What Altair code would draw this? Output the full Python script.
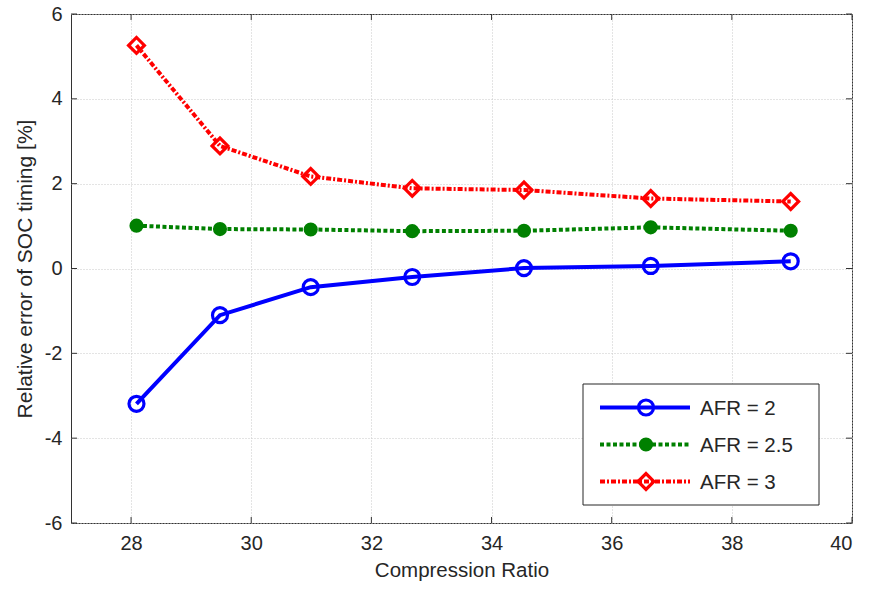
import altair as alt
import pandas as pd

# ---- data ----
cr = [28.09, 29.48, 30.99, 32.68, 34.54, 36.65, 38.98]
afr2 = [-3.19, -1.10, -0.44, -0.20, 0.01, 0.06, 0.17]
afr25 = [1.01, 0.93, 0.92, 0.88, 0.89, 0.97, 0.89]
afr3 = [5.26, 2.89, 2.17, 1.89, 1.85, 1.65, 1.58]
series_names = ["AFR = 2", "AFR = 2.5", "AFR = 3"]
x_ticks = [28, 30, 32, 34, 36, 38, 40]
y_ticks = [-6, -4, -2, 0, 2, 4, 6]

W, H = 781, 509
FONT = "Liberation Sans"
TXT = "#262626"

styles = [
    dict(color="#0000ff", dash=None, shape="circle", filled=False, size=225),
    dict(color="#008000", dash=[4, 2.5], shape="circle", filled=True, size=200),
    dict(color="#ff0000", dash=[5, 2, 2, 2], shape="diamond", filled=False, size=250),
]

xscale = alt.Scale(domain=[27, 40], nice=False, zero=False)
yscale = alt.Scale(domain=[-6, 6], nice=False, zero=False)
xaxis = alt.Axis(values=x_ticks, title="Compression Ratio", grid=True,
                 gridDash=[1, 2], gridColor="#c8c8c8", tickSize=0, domain=False,
                 labelPadding=10, titlePadding=7, titleFontSize=20.5)
yaxis = alt.Axis(values=y_ticks, title="Relative error of SOC timing [%]", grid=True,
                 gridDash=[1, 2], gridColor="#c8c8c8", tickSize=0, domain=False,
                 labelPadding=9, titlePadding=9, titleFontSize=21,
                 labelExpr="toString(datum.value)")

layers = []

# inward ticks on all four sides
xt = pd.DataFrame({"v": x_ticks})
yt = pd.DataFrame({"v": y_ticks})
for y0, y1 in [(H, H - 6), (0, 6)]:
    layers.append(alt.Chart(xt).mark_rule(color="#333333", strokeWidth=1).encode(
        x=alt.X("v:Q", scale=xscale, axis=xaxis), y=alt.value(y0), y2=alt.value(y1)))
for x0, x1 in [(0, 6), (W, W - 6)]:
    layers.append(alt.Chart(yt).mark_rule(color="#333333", strokeWidth=1).encode(
        y=alt.Y("v:Q", scale=yscale, axis=yaxis), x=alt.value(x0), x2=alt.value(x1)))

# data series
for name, vals, st in zip(series_names, [afr2, afr25, afr3], styles):
    df = pd.DataFrame({"cr": cr, "err": vals, "series": name})
    enc = dict(x=alt.X("cr:Q", scale=xscale, axis=xaxis),
               y=alt.Y("err:Q", scale=yscale, axis=yaxis))
    lkw = dict(color=st["color"], strokeWidth=4)
    if st["dash"]:
        lkw["strokeDash"] = st["dash"]
    layers.append(alt.Chart(df).mark_line(**lkw).encode(**enc))
    if st["filled"]:
        pm = alt.Chart(df).mark_point(shape=st["shape"], filled=True, fill=st["color"],
                                      size=st["size"], opacity=1, strokeWidth=0)
    else:
        pm = alt.Chart(df).mark_point(shape=st["shape"], filled=False, stroke=st["color"],
                                      size=st["size"], opacity=1, strokeWidth=3.2)
    layers.append(pm.encode(**enc))

# legend box
one = pd.DataFrame({"a": [0]})
layers.append(alt.Chart(one).mark_rect(fill="white", stroke="#262626", strokeWidth=1).encode(
    x=alt.value(512), x2=alt.value(748), y=alt.value(370), y2=alt.value(491)))
for i, (name, st) in enumerate(zip(series_names, styles)):
    ry = 393.5 + 37 * i
    lkw = dict(color=st["color"], strokeWidth=4)
    if st["dash"]:
        lkw["strokeDash"] = st["dash"]
    layers.append(alt.Chart(one).mark_rule(**lkw).encode(
        x=alt.value(529), x2=alt.value(619), y=alt.value(ry)))
    if st["filled"]:
        pm = alt.Chart(one).mark_point(shape=st["shape"], filled=True, fill=st["color"],
                                       size=st["size"], opacity=1, strokeWidth=0)
    else:
        pm = alt.Chart(one).mark_point(shape=st["shape"], filled=False, stroke=st["color"],
                                       size=st["size"], opacity=1, strokeWidth=3.2)
    layers.append(pm.encode(x=alt.value(575), y=alt.value(ry)))
    layers.append(alt.Chart(one).mark_text(align="left", baseline="middle", fontSize=20.5,
                                           font=FONT, color=TXT).encode(
        x=alt.value(629), y=alt.value(ry + 1), text=alt.value(name)))

chart = alt.layer(*layers).properties(
    width=W, height=H,
    autosize=alt.AutoSizeParams(type="none"),
    padding={"left": 71, "top": 14, "right": 18, "bottom": 67},
    background="white",
).configure_view(
    stroke="#333333", strokeWidth=1
).configure_axis(
    labelFont=FONT, titleFont=FONT, labelFontSize=20,
    labelColor=TXT, titleColor=TXT, titleFontWeight="normal"
)

chart.save("out.html", embed_options={"renderer": "svg", "actions": False})
